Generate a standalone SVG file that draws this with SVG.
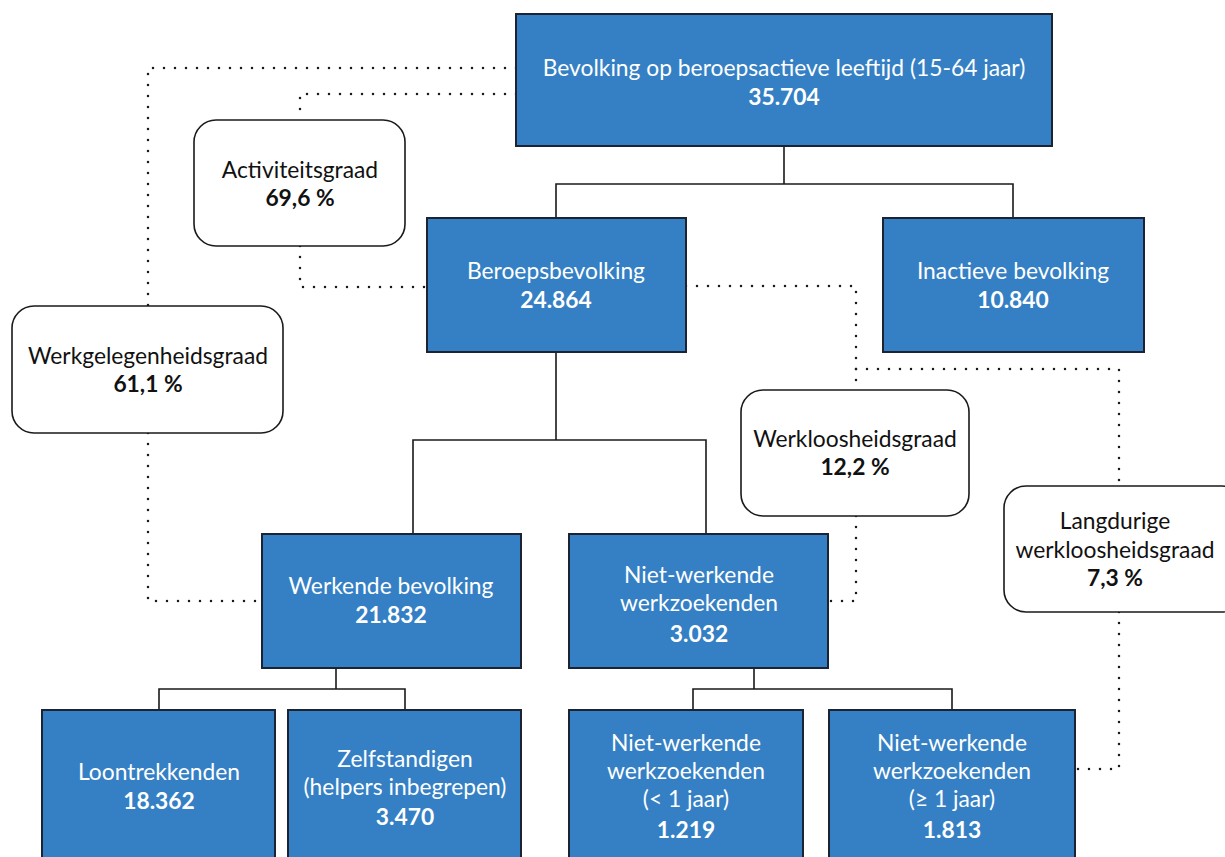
<svg xmlns="http://www.w3.org/2000/svg" width="1225" height="857" viewBox="0 0 1225 857">
<style>
.b{fill:#3580c4;stroke:#1c2433;stroke-width:2}
.r{fill:#fff;stroke:#1a1a1a;stroke-width:1.6}
.s{fill:none;stroke:#1a1a1a;stroke-width:1.6}
.d{fill:none;stroke:#1a1a1a;stroke-width:2.5;stroke-dasharray:0 11;stroke-linecap:round}
text{font-family:"Lato","Open Sans","Liberation Sans",sans-serif;font-size:22.8px;text-anchor:middle}
.w{fill:#fff}
.k{fill:#111}
.bd{font-weight:bold}
</style>
<rect width="1225" height="857" fill="#fff"/>
<g id="connectors">
<path class="s" d="M784 146V184M556 218V184H1013V218"/>
<path class="s" d="M556 352V440M413 534V440H706V534"/>
<path class="s" d="M336 668V689M159 710V689H405V710"/>
<path class="s" d="M754 668V689M693 710V689H952V710"/>
<path class="d" d="M516 68H148V306M148 433V601H262"/>
<path class="d" d="M516 94H300V120M300 246V287H427"/>
<path class="d" d="M686 286H856V390M856 516V601H828"/>
<path class="d" d="M856 369H1119V486M1119 612V769H1075"/>
</g>
<g id="n-bevolking"><rect class="b" x="516" y="14" width="536" height="132"/>
<text class="w" x="784" y="76">Bevolking op beroepsactieve leeftijd (15-64 jaar)</text>
<text class="w bd" x="784" y="105">35.704</text></g>
<g id="n-activiteit"><rect class="r" x="194" y="120" width="211" height="126" rx="22"/>
<text class="k" x="300" y="178">Activiteitsgraad</text>
<text class="k bd" x="300" y="206">69,6 %</text></g>
<g id="n-werkgelegenheid"><rect class="r" x="12" y="306" width="271" height="127" rx="22"/>
<text class="k" x="148" y="364">Werkgelegenheidsgraad</text>
<text class="k bd" x="148" y="392">61,1 %</text></g>
<g id="n-beroeps"><rect class="b" x="427" y="218" width="259" height="134"/>
<text class="w" x="556" y="279">Beroepsbevolking</text>
<text class="w bd" x="556" y="308">24.864</text></g>
<g id="n-inactief"><rect class="b" x="883" y="218" width="261" height="134"/>
<text class="w" x="1013" y="279">Inactieve bevolking</text>
<text class="w bd" x="1013" y="308">10.840</text></g>
<g id="n-werkloosheid"><rect class="r" x="741" y="390" width="228" height="126" rx="22"/>
<text class="k" x="855" y="447">Werkloosheidsgraad</text>
<text class="k bd" x="855" y="475">12,2 %</text></g>
<g id="n-langdurig"><rect class="r" x="1004" y="486" width="240" height="126" rx="22"/>
<text class="k" x="1115" y="529">Langdurige</text>
<text class="k" x="1115" y="558">werkloosheidsgraad</text>
<text class="k bd" x="1115" y="586">7,3 %</text></g>
<g id="n-werkende"><rect class="b" x="262" y="534" width="259" height="134"/>
<text class="w" x="391" y="594">Werkende bevolking</text>
<text class="w bd" x="391" y="623">21.832</text></g>
<g id="n-nietwerkende"><rect class="b" x="569" y="534" width="259" height="134"/>
<text class="w" x="699" y="583">Niet-werkende</text>
<text class="w" x="699" y="611">werkzoekenden</text>
<text class="w bd" x="699" y="642">3.032</text></g>
<g id="n-loon"><rect class="b" x="42" y="710" width="233" height="160"/>
<text class="w" x="159" y="780">Loontrekkenden</text>
<text class="w bd" x="159" y="809">18.362</text></g>
<g id="n-zelf"><rect class="b" x="288" y="710" width="233" height="160"/>
<text class="w" x="405" y="767">Zelfstandigen</text>
<text class="w" x="405" y="795">(helpers inbegrepen)</text>
<text class="w bd" x="405" y="825">3.470</text></g>
<g id="n-nw1"><rect class="b" x="569" y="710" width="234" height="160"/>
<text class="w" x="686" y="751">Niet-werkende</text>
<text class="w" x="686" y="779">werkzoekenden</text>
<text class="w" x="686" y="807">(&lt; 1 jaar)</text>
<text class="w bd" x="686" y="838">1.219</text></g>
<g id="n-nw2"><rect class="b" x="829" y="710" width="246" height="160"/>
<text class="w" x="952" y="751">Niet-werkende</text>
<text class="w" x="952" y="779">werkzoekenden</text>
<text class="w" x="952" y="807">(≥ 1 jaar)</text>
<text class="w bd" x="952" y="838">1.813</text></g>
</svg>
